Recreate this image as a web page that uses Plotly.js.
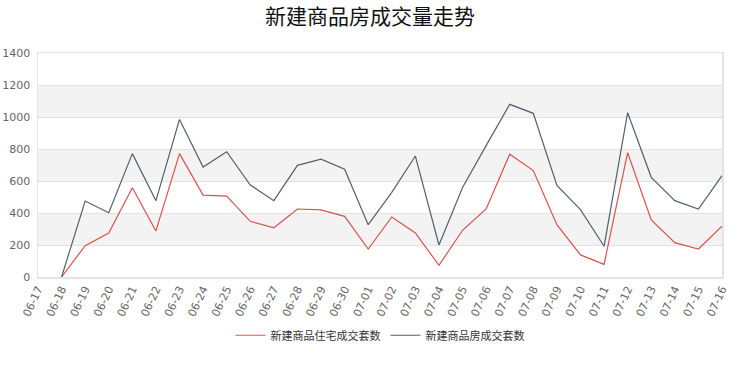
<!DOCTYPE html>
<html>
<head>
<meta charset="utf-8">
<script src="https://cdn.plot.ly/plotly-3.0.1.min.js"></script>
<style>html,body{margin:0;padding:0;background:#fff;}#chart{width:740px;height:370px;}</style>
</head>
<body>
<div id="chart"></div>
<script>
var dates = ["06-17","06-18","06-19","06-20","06-21","06-22","06-23","06-24","06-25","06-26","06-27","06-28","06-29","06-30",
             "07-01","07-02","07-03","07-04","07-05","07-06","07-07","07-08","07-09","07-10","07-11","07-12","07-13","07-14","07-15","07-16"];
var residentialSets = [null,0,196,275,558,288,771,512,506,348,308,425,419,379,
                       175,375,275,73,292,425,767,665,327,138,79,777,356,215,175,317];
var allSets = [null,0,475,402,771,477,985,687,783,575,477,698,737,673,
               327,529,756,200,560,821,1079,1023,573,421,192,1027,623,477,425,633];
var seriesNames = ["新建商品住宅成交套数","新建商品房成交套数"];
var chartTitle = "新建商品房成交量走势";
var yTicks = [0,200,400,600,800,1000,1200,1400];

var cjk = "'Noto Sans CJK SC', 'Noto Sans', sans-serif";
var latin = "'DejaVu Sans', sans-serif";
var bands = [[200,400],[600,800],[1000,1200]];
var shapes = bands.map(function(b){
  return {type:'rect', xref:'paper', yref:'y', x0:0, x1:1, y0:b[0], y1:b[1],
          fillcolor:'#f3f3f3', line:{width:0}, layer:'below'};
});

var traces = [
  {x:dates, y:residentialSets, name:seriesNames[0], type:'scatter', mode:'lines',
   line:{color:'#d9534f', width:1.2}, connectgaps:false},
  {x:dates, y:allSets, name:seriesNames[1], type:'scatter', mode:'lines',
   line:{color:'#516170', width:1.2}, connectgaps:false}
];

var layout = {
  width:740, height:370,
  margin:{l:38, r:18, t:53, b:93},
  paper_bgcolor:'#fff', plot_bgcolor:'#fff',
  font:{family:cjk, color:'#555', size:11},
  title:{text:chartTitle, x:0.5, xanchor:'center', y:0.955, yanchor:'middle',
         font:{family:cjk, size:21, color:'#111', weight:'normal'}},
  shapes:shapes,
  xaxis:{type:'category', range:[0, dates.length-1], tickangle:-65, automargin:false,
         showgrid:false, zeroline:false, showline:true, linecolor:'#e3e3e3', linewidth:1.5, mirror:true,
         ticks:'', tickfont:{family:latin, size:11, color:'#666'}, fixedrange:true},
  yaxis:{range:[0,1400], tickvals:yTicks, ticktext:yTicks.map(String), automargin:false,
         showgrid:true, gridcolor:'#e3e3e3', gridwidth:1, zeroline:false,
         showline:true, linecolor:'#e3e3e3', linewidth:1.5, mirror:true,
         ticks:'', tickfont:{family:latin, size:11, color:'#666'}, ticklabelstandoff:4},
  showlegend:true,
  legend:{orientation:'h', x:0.5, xanchor:'center', y:-0.26, yanchor:'middle',
          font:{family:cjk, size:11, color:'#333'}, itemwidth:30, bgcolor:'rgba(0,0,0,0)'}
};

Plotly.newPlot('chart', traces, layout, {displayModeBar:false, staticPlot:true});
</script>
</body>
</html>
